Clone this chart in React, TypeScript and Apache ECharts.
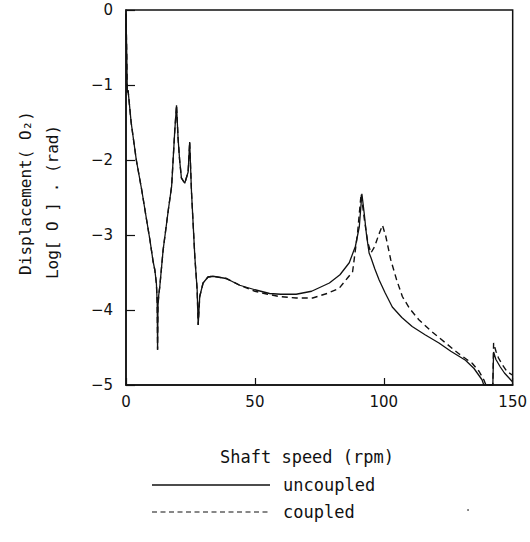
import React, { useEffect, useRef } from "react";
import * as echarts from "echarts";

// Shaft speed (rpm) and log displacement
const speedUncoupled = [
  0, 0.3, 0.5, 0.8, 2, 4, 6.1, 8, 9.3, 10.5, 11.2, 11.8, 12.1, 12.25, 12.4, 12.7, 13.1, 14.4, 16.4, 17.7,
  18.9, 19.6, 20.2, 20.8, 21.5, 22.8, 24.1, 24.7, 25.4, 26.7, 27.6, 28.0, 28.6, 29.9, 31.8, 33.7, 38.9, 44.1,
  50, 55.7, 60, 66, 72, 78.9, 83, 86.6, 89, 90.5, 91.5, 92.4, 93.3, 94.3, 95, 96.5, 98.2, 100.5, 103.3, 107,
  111, 116, 121.4, 126, 131.7, 135, 138.1, 138.8, 141.5, 142.3, 142.6, 143.5, 145.2, 146.8, 148.4, 150,
];
const dispUncoupled = [
  -0.05, -0.6, -1.1, -1.07, -1.5, -2.0, -2.4, -2.8, -3.07, -3.35, -3.47, -3.65, -3.9, -4.53, -3.95, -3.8, -3.69,
  -3.2, -2.67, -2.35, -1.62, -1.27, -1.71, -2.0, -2.24, -2.31, -2.16, -1.76, -2.42, -3.29, -3.73, -4.2, -3.82,
  -3.64, -3.56, -3.55, -3.58, -3.67, -3.73, -3.78, -3.79, -3.79, -3.75, -3.64, -3.53, -3.37, -3.15, -2.89,
  -2.45, -2.71, -3.0, -3.24, -3.3, -3.45, -3.6, -3.77, -3.96, -4.1, -4.22, -4.33, -4.44, -4.55, -4.67, -4.78,
  -4.93, -5.0, -5.0, -5.0, -4.56, -4.66, -4.76, -4.84, -4.9, -4.96,
];
const speedCoupled = [
  0, 0.3, 0.5, 0.8, 2, 4, 6.1, 8, 9.3, 10.5, 11.2, 11.8, 12.1, 12.25, 12.4, 12.7, 13.1, 14.4, 16.4, 17.7,
  18.9, 19.6, 20.2, 20.8, 21.5, 22.8, 24.1, 24.7, 25.4, 26.7, 27.6, 28.0, 28.6, 29.9, 31.8, 33.7, 38.9, 44.1,
  50, 55, 59.5, 66, 72.4, 78, 82.7, 86, 87.9, 89.8, 91.2, 92.5, 93.8, 95, 96.5, 98, 99.5, 100.8, 102.7, 105,
  107.2, 110, 113.6, 118, 124, 129, 134.3, 137, 138.8, 139.6, 141.5, 142.3, 142.6, 143.5, 144.5, 146, 147.8, 150,
];
const dispCoupled = [
  -0.05, -0.6, -1.1, -1.07, -1.5, -2.0, -2.4, -2.8, -3.07, -3.35, -3.47, -3.65, -3.9, -4.53, -3.95, -3.8, -3.69,
  -3.2, -2.67, -2.35, -1.62, -1.27, -1.71, -2.0, -2.24, -2.31, -2.16, -1.76, -2.42, -3.29, -3.73, -4.2, -3.82,
  -3.64, -3.56, -3.55, -3.58, -3.67, -3.75, -3.79, -3.82, -3.84, -3.84, -3.78, -3.71, -3.57, -3.49, -2.98,
  -2.45, -2.8, -3.1, -3.24, -3.15, -3.0, -2.87, -3.02, -3.33, -3.6, -3.82, -3.98, -4.13, -4.27, -4.44, -4.58,
  -4.71, -4.82, -4.93, -5.0, -5.0, -5.0, -4.44, -4.55, -4.64, -4.73, -4.82, -4.87,
];

const xTicks = [0, 50, 100, 150];
const yTicks = [0, -1, -2, -3, -4, -5];
const seriesNames = ["uncoupled", "coupled"];

const zip = (xs: number[], ys: number[]) => xs.map((x, i) => [x, ys[i]]);

export default function App() {
  const ref = useRef<HTMLDivElement>(null);
  useEffect(() => {
    const chart = echarts.init(ref.current!, null, { renderer: "svg" });
    const mono = "DejaVu Sans Mono";
    chart.setOption({
      animation: false,
      backgroundColor: "#fff",
      grid: {
        left: 126,
        right: 16,
        top: 10,
        bottom: 157,
        show: true,
        borderColor: "#111",
        borderWidth: 1.5,
      },
      xAxis: {
        type: "value",
        min: xTicks[0],
        max: xTicks[xTicks.length - 1],
        interval: 50,
        axisLine: { show: true, onZero: false, lineStyle: { color: "#111", width: 1.5 } },
        axisTick: { show: true, inside: true, length: 7, lineStyle: { color: "#111", width: 1.2 } },
        axisLabel: { color: "#111", fontSize: 15, fontFamily: "DejaVu Sans", margin: 9 },
        splitLine: { show: false },
      },
      yAxis: {
        type: "value",
        min: yTicks[yTicks.length - 1],
        max: yTicks[0],
        interval: 1,
        axisLine: { show: true, onZero: false, lineStyle: { color: "#111", width: 1.5 } },
        axisTick: { show: true, inside: true, length: 9, lineStyle: { color: "#111", width: 1.2 } },
        axisLabel: {
          color: "#111",
          fontSize: 15,
          fontFamily: "DejaVu Sans",
          margin: 13,
          formatter: (v: number) => (v < 0 ? "\u2212" + Math.abs(v) : String(v)),
        },
        splitLine: { show: false },
      },
      series: [
        {
          name: seriesNames[0],
          type: "line",
          data: zip(speedUncoupled, dispUncoupled),
          showSymbol: false,
          symbol: "none",
          clip: true,
          lineStyle: { color: "#111", width: 1.3 },
        },
        {
          name: seriesNames[1],
          type: "line",
          data: zip(speedCoupled, dispCoupled),
          showSymbol: false,
          symbol: "none",
          clip: true,
          lineStyle: { color: "#111", width: 1.4, type: [6, 4] },
        },
      ],
      graphic: [
        {
          type: "text",
          x: 307,
          y: 457,
          style: { text: "Shaft speed (rpm)", font: `17px '${mono}'`, fill: "#111", align: "center", verticalAlign: "middle" },
        },
        {
          type: "line",
          shape: { x1: 152, y1: 485, x2: 270, y2: 485 },
          style: { stroke: "#111", lineWidth: 1.3 },
        },
        {
          type: "text",
          x: 283,
          y: 485,
          style: { text: seriesNames[0], font: `17px '${mono}'`, fill: "#111", align: "left", verticalAlign: "middle" },
        },
        {
          type: "line",
          shape: { x1: 152, y1: 512, x2: 270, y2: 512 },
          style: { stroke: "#111", lineWidth: 1.2, lineDash: [5, 3.5] },
        },
        {
          type: "text",
          x: 283,
          y: 512,
          style: { text: seriesNames[1], font: `17px '${mono}'`, fill: "#111", align: "left", verticalAlign: "middle" },
        },
        {
          type: "circle",
          shape: { cx: 468, cy: 510, r: 0.8 },
          style: { fill: "#444" },
        },
        {
          type: "text",
          x: 25,
          y: 193,
          rotation: Math.PI / 2,
          style: { text: "Displacement( O\u2082)", font: `16px '${mono}'`, fill: "#111", align: "center", verticalAlign: "middle" },
        },
        {
          type: "text",
          x: 52,
          y: 202,
          rotation: Math.PI / 2,
          style: { text: "Log[ O ] . (rad)", font: `16px '${mono}'`, fill: "#111", align: "center", verticalAlign: "middle" },
        },
      ],
    });
    return () => chart.dispose();
  }, []);
  return <div ref={ref} style={{ position: "absolute", left: 0, top: 0, width: 530, height: 542 }} />;
}
